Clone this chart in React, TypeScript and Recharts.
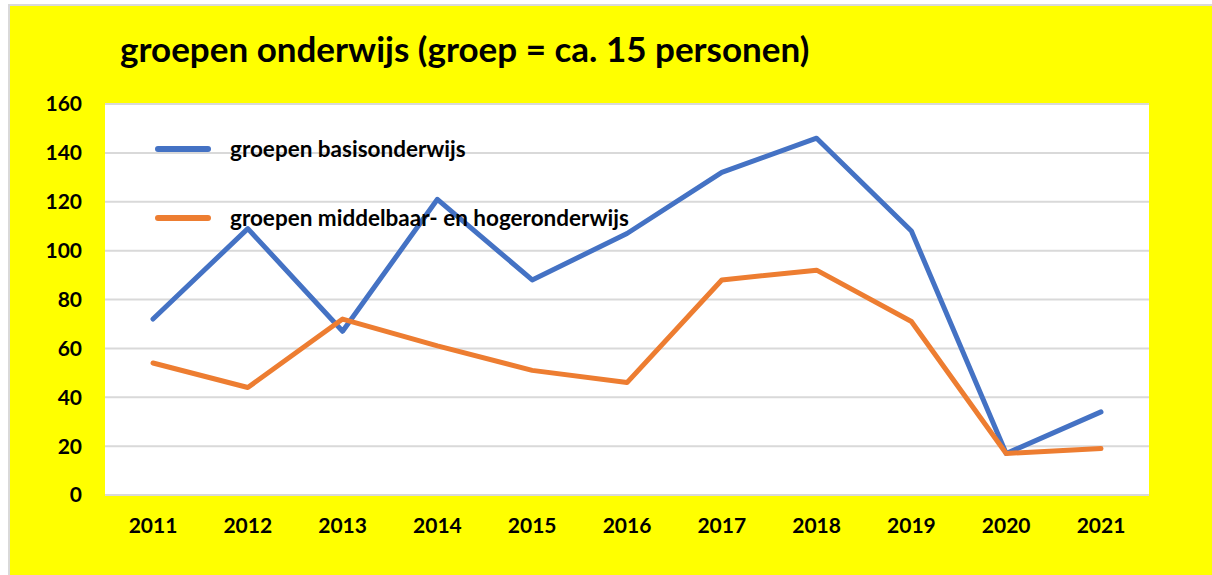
import React from 'react';
import { LineChart, Line, XAxis, YAxis, CartesianGrid, Legend } from 'recharts';

const years = ['2011', '2012', '2013', '2014', '2015', '2016', '2017', '2018', '2019', '2020', '2021'];
const basisonderwijs = [72, 109, 67, 121, 88, 107, 132, 146, 108, 17, 34];
const middelbaarHoger = [54, 44, 72, 61, 51, 46, 88, 92, 71, 17, 19];
const yTicks = [0, 20, 40, 60, 80, 100, 120, 140, 160];

const data = years.map((y, i) => ({ year: y, basis: basisonderwijs[i], mh: middelbaarHoger[i] }));

const FONT = 'Lato, "Open Sans", sans-serif';

const LegendContent = (props: any) => {
  const { payload } = props;
  return (
    <div style={{ fontFamily: FONT, fontWeight: 700, fontSize: 22.5, color: '#000' }}>
      {(payload || []).map((p: any, i: number) => (
        <div key={i} style={{ display: 'flex', alignItems: 'center', height: 69 }}>
          <div style={{ width: 56, height: 6, borderRadius: 3, background: p.color, marginRight: 19 }} />
          <span>{p.value}</span>
        </div>
      ))}
    </div>
  );
};

export default function App() {
  return (
    <div style={{ position: 'absolute', left: 0, top: 0, width: 1212, height: 575, background: '#fff', overflow: 'hidden' }}>
      <div style={{ position: 'absolute', left: 8, top: 4, width: 1210, height: 575, background: '#ffff00', border: '2px solid #d9d9d9', boxSizing: 'border-box' }} />
      <div style={{ position: 'absolute', left: 120, top: 31, fontFamily: FONT, fontWeight: 700, fontSize: 35, lineHeight: '35px', color: '#000', whiteSpace: 'nowrap' }}>
        groepen onderwijs (groep = ca. 15 personen)
      </div>
      <div style={{ position: 'absolute', left: 0, top: 0 }}>
        <LineChart width={1212} height={575} data={data} margin={{ top: 104, right: 63, bottom: 50, left: 0 }}>
          <CartesianGrid vertical={false} stroke="#d9d9d9" strokeWidth={2} fill="#ffffff" fillOpacity={1} />
          <XAxis
            dataKey="year"
            height={30}
            tickSize={0}
            tickMargin={23}
            interval={0}
            padding={{ left: 48, right: 48 }}
            axisLine={{ stroke: '#d9d9d9', strokeWidth: 2 }}
            tickLine={false}
            tick={{ fill: '#000', fontFamily: FONT, fontWeight: 700, fontSize: 21 }}
          />
          <YAxis
            width={105}
            domain={[0, 160]}
            ticks={yTicks}
            interval={0}
            tickSize={0}
            tickMargin={23}
            axisLine={false}
            tickLine={false}
            tick={{ fill: '#000', fontFamily: FONT, fontWeight: 700, fontSize: 21 }}
          />
          <Legend
            layout="vertical"
            verticalAlign="middle"
            align="center"
            wrapperStyle={{ left: 155, top: 114, width: 600 }}
            content={<LegendContent />}
          />
          <Line
            type="linear"
            dataKey="basis"
            name="groepen basisonderwijs"
            stroke="#4472C4"
            strokeWidth={5}
            strokeLinecap="round"
            strokeLinejoin="round"
            dot={false}
            activeDot={false}
            isAnimationActive={false}
          />
          <Line
            type="linear"
            dataKey="mh"
            name="groepen middelbaar- en hogeronderwijs"
            stroke="#ED7D31"
            strokeWidth={5}
            strokeLinecap="round"
            strokeLinejoin="round"
            dot={false}
            activeDot={false}
            isAnimationActive={false}
          />
        </LineChart>
      </div>
    </div>
  );
}
